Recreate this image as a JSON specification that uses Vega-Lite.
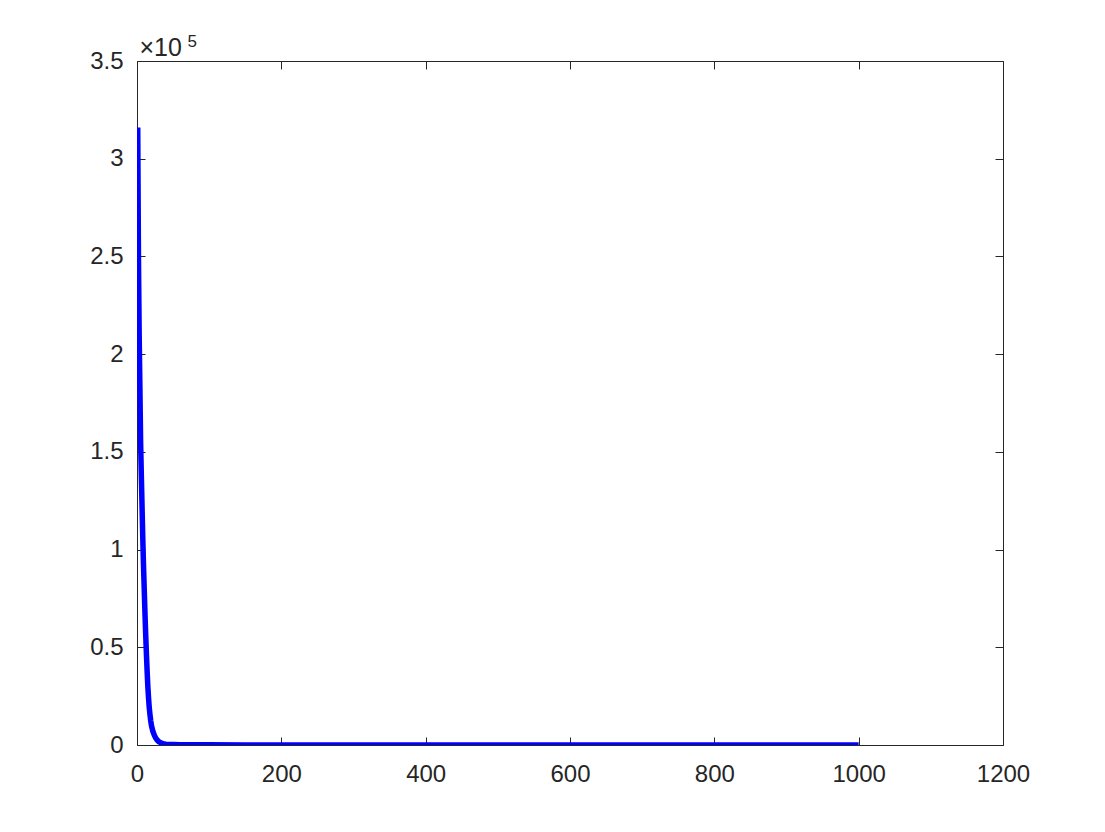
{
  "$schema": "https://vega.github.io/schema/vega-lite/v6.json",
  "autosize": {"type": "none"},
  "padding": {"left": 137, "top": 61, "right": 102, "bottom": 87},
  "width": 866,
  "height": 684,
  "background": "white",
  "config": {
    "view": {"stroke": null},
    "axis": {
      "labelFont": "Liberation Sans",
      "labelFontSize": 24,
      "labelColor": "#262626",
      "labelFlush": false,
      "labelOverlap": false,
      "domainColor": "#262626",
      "tickColor": "#262626",
      "domainWidth": 1,
      "tickWidth": 1,
      "grid": false,
      "tickSize": -8,
      "title": null
    }
  },
  "data": {
    "values": [
      {"iter": 1, "cost": 316000},
      {"iter": 2, "cost": 250000},
      {"iter": 3, "cost": 210000},
      {"iter": 4, "cost": 183000},
      {"iter": 5, "cost": 155000},
      {"iter": 6, "cost": 138000},
      {"iter": 7, "cost": 122000},
      {"iter": 8, "cost": 106000},
      {"iter": 9, "cost": 92000},
      {"iter": 10, "cost": 80000},
      {"iter": 11, "cost": 68000},
      {"iter": 12, "cost": 57000},
      {"iter": 13, "cost": 47000},
      {"iter": 14, "cost": 38000},
      {"iter": 15, "cost": 30000},
      {"iter": 16, "cost": 24000},
      {"iter": 17, "cost": 19000},
      {"iter": 18, "cost": 15500},
      {"iter": 19, "cost": 12500},
      {"iter": 20, "cost": 10000},
      {"iter": 22, "cost": 7000},
      {"iter": 24, "cost": 5000},
      {"iter": 26, "cost": 3500},
      {"iter": 28, "cost": 2500},
      {"iter": 30, "cost": 1800},
      {"iter": 33, "cost": 1100},
      {"iter": 36, "cost": 700},
      {"iter": 40, "cost": 450},
      {"iter": 45, "cost": 300},
      {"iter": 50, "cost": 230},
      {"iter": 60, "cost": 160},
      {"iter": 80, "cost": 110},
      {"iter": 100, "cost": 80},
      {"iter": 150, "cost": 50},
      {"iter": 200, "cost": 35},
      {"iter": 300, "cost": 20},
      {"iter": 400, "cost": 14},
      {"iter": 500, "cost": 10},
      {"iter": 600, "cost": 8},
      {"iter": 700, "cost": 6},
      {"iter": 800, "cost": 5},
      {"iter": 900, "cost": 4},
      {"iter": 1000, "cost": 3}
    ]
  },
  "layer": [
    {
      "mark": {"type": "line", "color": "#0000ff", "strokeWidth": 5.5, "clip": true},
      "encoding": {
        "x": {
          "field": "iter", "type": "quantitative",
          "scale": {"domain": [0, 1200], "nice": false, "zero": false},
          "axis": {"orient": "bottom", "values": [0, 200, 400, 600, 800, 1000, 1200], "format": "d", "labelPadding": 25}
        },
        "y": {
          "field": "cost", "type": "quantitative",
          "scale": {"domain": [0, 350000], "nice": false},
          "axis": {
            "orient": "left",
            "values": [0, 50000, 100000, 150000, 200000, 250000, 300000, 350000],
            "labelExpr": "datum.value / 100000",
            "labelPadding": 22,
            "title": "×10",
            "titleAngle": 0,
            "titleAlign": "left",
            "titleBaseline": "alphabetic",
            "titleX": 2,
            "titleY": -6,
            "titleFont": "Liberation Sans",
            "titleFontSize": 25,
            "titleFontWeight": "normal",
            "titleColor": "#262626"
          }
        }
      }
    },
    {
      "mark": {"type": "line", "opacity": 0},
      "encoding": {
        "x": {
          "field": "iter", "type": "quantitative",
          "axis": {
            "orient": "top", "values": [0, 200, 400, 600, 800, 1000, 1200], "labels": false,
            "title": "5",
            "titleAngle": 0,
            "titleAlign": "left",
            "titleBaseline": "alphabetic",
            "titleX": 50,
            "titleY": -15,
            "titleFont": "Liberation Sans",
            "titleFontSize": 17,
            "titleFontWeight": "normal",
            "titleColor": "#262626"
          }
        },
        "y": {
          "field": "cost", "type": "quantitative",
          "axis": {"orient": "right", "values": [0, 50000, 100000, 150000, 200000, 250000, 300000, 350000], "labels": false}
        }
      }
    }
  ],
  "resolve": {"axis": {"x": "independent", "y": "independent"}}
}
